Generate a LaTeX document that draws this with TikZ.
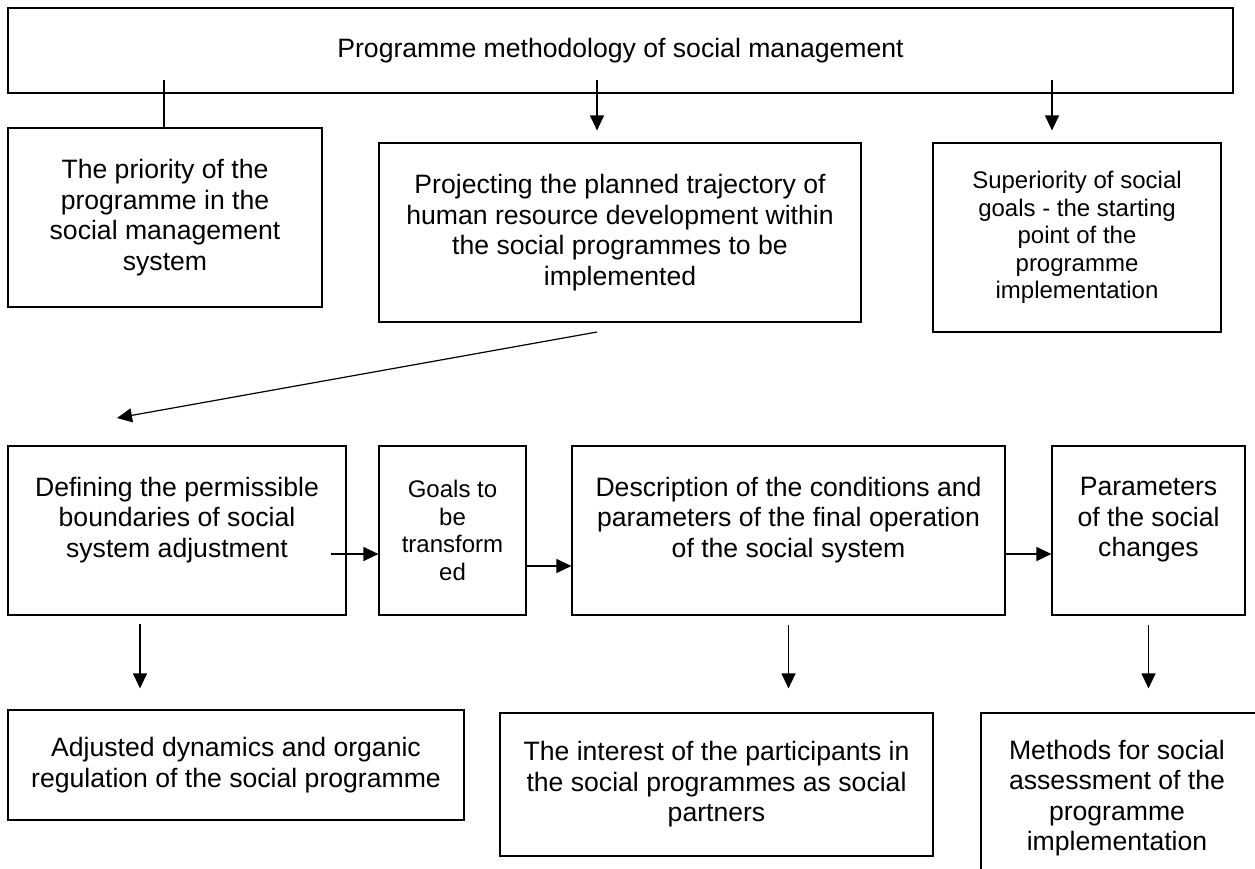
\documentclass[tikz,border=0pt]{standalone}
\usepackage{fontspec}
\setmainfont{Liberation Sans}
\usetikzlibrary{arrows.meta,calc}
\newcommand\fbig{\fontsize{26.6pt}{30.5pt}\selectfont}
\newcommand\fsmall{\fontsize{24pt}{27.5pt}\selectfont}
\tikzset{
  box/.style={draw, line width=1.2pt, rectangle, inner sep=0pt, align=center, font=\fbig},
  lbl/.style={align=center, font=\fbig, inner sep=0pt},
  arr/.style={line width=1.2pt, -{Triangle[length=15pt,width=14pt]}},
  conn/.style={line width=1.2pt}
}
\begin{document}
\begin{tikzpicture}[x=1pt,y=-1pt]
\useasboundingbox (0,0) rectangle (1255,868);
\clip (0,0) rectangle (1255,868);
% top
\node[box, minimum width=1225pt, minimum height=85pt] (top) at (620.5,50.5) {Programme methodology of social management};
% row 1
\node[box, minimum width=314pt, minimum height=179pt] (b1) at (165,217.5) {The priority of the\\programme in the\\social management\\system};
\node[box, minimum width=482pt, minimum height=179pt] (b2) at (620,232.5) {Projecting the planned trajectory of\\human resource development within\\the social programmes to be\\implemented};
\node[box, font=\fsmall, minimum width=288pt, minimum height=189pt] (b3) at (1077,237.5) {Superiority of social\\goals - the starting\\point of the\\programme\\implementation};
% row 2
\node[box, minimum width=338pt, minimum height=169pt, label={[name=At, lbl, yshift=10.5pt]center:Defining the permissible\\boundaries of social\\system adjustment}] (A) at (177,530.5) {};
\node[box, font=\fsmall, minimum width=147pt, minimum height=169pt] (B) at (452.5,530.5) {Goals to\\be\\transform\\ed};
\node[box, minimum width=433pt, minimum height=169pt, label={[name=Ct, lbl, yshift=10.5pt]center:Description of the conditions and\\parameters of the final operation\\of the social system}] (C) at (788.5,530.5) {};
\node[box, minimum width=193pt, minimum height=169pt, label={[name=Dt, lbl, yshift=10.5pt]center:Parameters\\of the social\\changes}] (D) at (1148.5,530.5) {};
% row 3
\node[box, minimum width=456pt, minimum height=110pt] (E) at (236,765) {Adjusted dynamics and organic\\regulation of the social programme};
\node[box, minimum width=433pt, minimum height=143pt] (F) at (716.5,784.5) {The interest of the participants in\\the social programmes as social\\partners};
\node[box, minimum width=281pt, minimum height=170pt, label={[name=Gt, lbl, xshift=-4.5pt]center:Methods for social\\assessment of the\\programme\\implementation}] (G) at (1121.5,798) {};
% connectors from top
\coordinate (t1) at (164,80);
\coordinate (t2) at (597,80);
\coordinate (t3) at (1052,80);
\draw[conn] (t1) -- (t1 |- b1.north);
\draw[arr] (t2) -- ([yshift=12pt]t2 |- b2.north);
\draw[arr] (t3) -- ([yshift=12pt]t3 |- b3.north);
% diagonal
\coordinate (d1) at (597,332);
\coordinate (d2) at (117,418);
\draw[arr] (d1) -- (d2);
% horizontal
\coordinate (ab) at (331,554);
\draw[arr] (ab) -- (ab -| B.west);
\draw[arr] ([yshift=-35.5pt]B.east) -- ([yshift=-35.5pt]C.west);
\draw[arr] ([yshift=-23.5pt]C.east) -- ([yshift=-23.5pt]D.west);
% down arrows
\coordinate (ae) at (140,624);
\draw[arr] (ae) -- ([yshift=21pt]ae |- E.north);
\draw[arr] ([yshift=-9pt]C.south) -- ([yshift=24pt]C.south |- F.north);
\draw[arr] ([yshift=-9pt]D.south) -- ([yshift=24pt]D.south |- G.north);
\end{tikzpicture}
\end{document}
